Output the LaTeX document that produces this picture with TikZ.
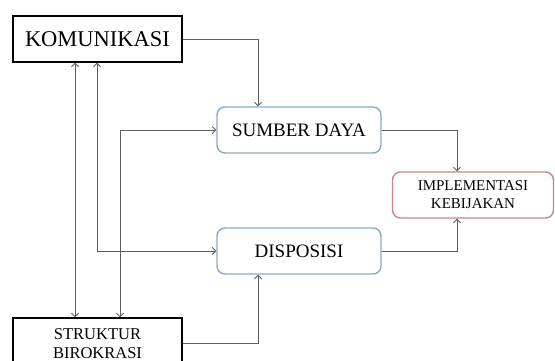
\documentclass[tikz,border=0pt]{standalone}
\usepackage{fontspec}
\setmainfont{Liberation Serif}
\usetikzlibrary{arrows.meta}
\definecolor{bluebd}{HTML}{86AACB}
\definecolor{redbd}{HTML}{C98585}
\definecolor{linec}{HTML}{5E5E5E}
\begin{document}
\begin{tikzpicture}[x=1pt,y=-1pt,
  blackbox/.style={draw=black,line width=1.4pt,rectangle,inner sep=0pt,align=center,font=\fontsize{22.5}{24}\selectfont},
  bluebox/.style={draw=bluebd,line width=1.4pt,rectangle,rounded corners=8pt,inner sep=0pt,minimum width=164pt,minimum height=46pt,font=\fontsize{19}{22}\selectfont},
  redbox/.style={draw=redbd,line width=1.4pt,rectangle,rounded corners=8pt,inner sep=0pt,align=center,minimum width=161pt,minimum height=46pt,font=\fontsize{15}{18}\selectfont},
  arr/.style={draw=linec,line width=0.9pt,-{Straight Barb[length=3.5pt,width=7pt]}},
  darr/.style={draw=linec,line width=0.9pt,{Straight Barb[length=3.5pt,width=7pt]}-{Straight Barb[length=3.5pt,width=7pt]}}]
\useasboundingbox (0,0) rectangle (555,361);
\clip (0,0) rectangle (555,361);
\node[blackbox,minimum width=169pt,minimum height=46pt] (kom) at (97.5,39) {KOMUNIKASI};
\node[bluebox] (sum) at (299,130) {SUMBER DAYA};
\node[bluebox] (dis) at (299,251) {DISPOSISI};
\node[redbox] (imp) at (473,195) {IMPLEMENTASI\\KEBIJAKAN};
\node[blackbox,minimum width=169pt,minimum height=51pt,font=\fontsize{16.5}{19}\selectfont] (str) at (97.5,343.5) {STRUKTUR\\BIROKRASI};
\coordinate (xa) at (258,0);
\coordinate (xb) at (75,0);
\coordinate (xc) at (97,0);
\coordinate (xd) at (120,0);
\coordinate (xe) at (457,0);
\draw[arr] (kom.east) -| (sum.north -| xa);
\draw[darr] (kom.south -| xb) -- (str.north -| xb);
\draw[darr] (kom.south -| xc) |- (dis.west);
\draw[darr] (sum.west) -| (str.north -| xd);
\draw[arr] (sum.east) -| (imp.north -| xe);
\draw[arr] (dis.east) -| (imp.south -| xe);
\draw[arr] (str.east) -| (dis.south -| xa);
\end{tikzpicture}
\end{document}
